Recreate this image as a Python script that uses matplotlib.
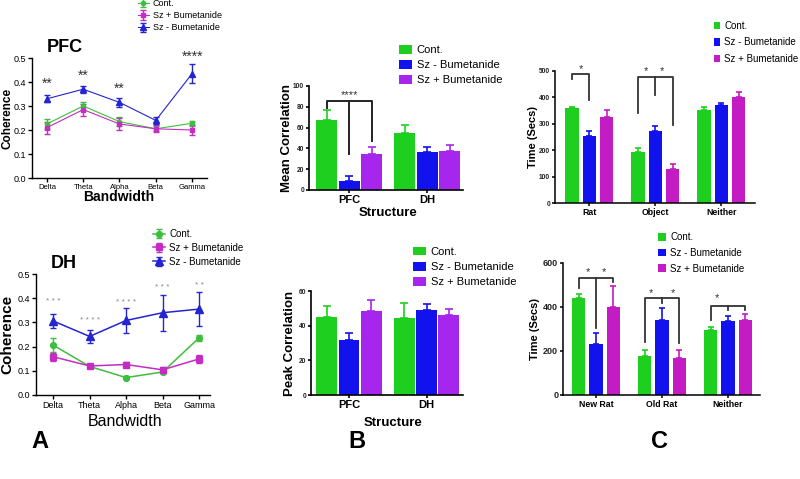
import matplotlib
matplotlib.use("Agg")
import matplotlib.pyplot as plt
import numpy as np

plt.rcParams['font.family'] = ['Liberation Sans', 'DejaVu Sans']

# ---------------- data ----------------
bands = ["Delta", "Theta", "Alpha", "Beta", "Gamma"]

pfc_cont = [0.225, 0.300, 0.235, 0.205, 0.228]
pfc_cont_err = [0.020, 0.015, 0.020, 0.010, 0.010]
pfc_szp = [0.210, 0.285, 0.225, 0.205, 0.200]
pfc_szp_err = [0.025, 0.025, 0.025, 0.015, 0.020]
pfc_szm = [0.330, 0.370, 0.315, 0.240, 0.435]
pfc_szm_err = [0.015, 0.015, 0.020, 0.015, 0.038]
pfc_stars = ["**", "**", "**", "", "****"]
pfc_star_y = [0.393, 0.424, 0.372, 0.0, 0.505]

dh_cont = [0.206, 0.118, 0.072, 0.095, 0.236]
dh_cont_err = [0.030, 0.005, 0.006, 0.006, 0.012]
dh_szp = [0.158, 0.120, 0.126, 0.104, 0.149]
dh_szp_err = [0.016, 0.006, 0.010, 0.010, 0.016]
dh_szm = [0.306, 0.242, 0.308, 0.340, 0.355]
dh_szm_err = [0.030, 0.028, 0.050, 0.074, 0.070]
dh_stars = ["* * *", "* * * *", "* * * *", "* * *", "* *"]
dh_star_y = [0.387, 0.308, 0.384, 0.445, 0.452]

structures = ["PFC", "DH"]
mean_cont = [67.4, 54.6]
mean_cont_err = [9.6, 8.0]
mean_szm = [8.6, 36.4]
mean_szm_err = [4.4, 4.6]
mean_szp = [34.5, 37.7]
mean_szp_err = [6.5, 5.3]

peak_cont = [45.2, 44.6]
peak_cont_err = [6.0, 8.7]
peak_szm = [32.0, 48.8]
peak_szm_err = [3.9, 3.7]
peak_szp = [48.5, 46.1]
peak_szp_err = [6.5, 3.7]

soc_cats = ["Rat", "Object", "Neither"]
soc_cont = [359, 192, 353]
soc_cont_err = [4, 15, 11]
soc_szm = [254, 274, 372]
soc_szm_err = [20, 18, 6]
soc_szp = [326, 128, 400]
soc_szp_err = [27, 21, 19]

nov_cats = ["New Rat", "Old Rat", "Neither"]
nov_cont = [439, 179, 294]
nov_cont_err = [19, 27, 16]
nov_szm = [230, 339, 338]
nov_szm_err = [50, 55, 20]
nov_szp = [399, 167, 339]
nov_szp_err = [96, 36, 31]

# ---------------- helpers ----------------
W, H = 800, 479
fig = plt.figure(figsize=(W / 100, H / 100), dpi=100)


def add_ax(x0, y0, x1, y1):
    return fig.add_axes([x0 / W, 1 - y1 / H, (x1 - x0) / W, (y1 - y0) / H])


def figpt(x, y):
    return (x / W, 1 - y / H)


def style(ax, lw=1.0, tl=3, pad=1.5):
    for s in ["top", "right"]:
        ax.spines[s].set_visible(False)
    for s in ["left", "bottom"]:
        ax.spines[s].set_linewidth(lw)
    ax.tick_params(direction="out", length=tl, width=lw, pad=pad)


def ylab(ax, text, box, right_px, size, weight="bold"):
    x0, y0, x1, y1 = box
    ax.set_ylabel(text, fontsize=size, fontweight=weight)
    ax.yaxis.set_label_coords((right_px - x0) / (x1 - x0), 0.5)


def xlab(ax, text, box, cx_px, top_px, size, weight="bold"):
    x0, y0, x1, y1 = box
    ax.set_xlabel(text, fontsize=size, fontweight=weight)
    ax.xaxis.set_label_coords((cx_px - x0) / (x1 - x0), (y1 - top_px) / (y1 - y0))


# ---------------- A: coherence line plots ----------------
GA, MA, BA = "#3cbf3c", "#c42cc4", "#2424d0"


def line_panel(box, xlim, cont, ce, szp, pe, szm, me, stars, sy, star_size, star_col,
               title, title_xy, ms, lw, xt_size, yt_size, leg_xy, leg_size, leg_sp,
               ylab_right, xlab_pos, ylab_size, xlab_size, xlab_weight):
    ax = add_ax(*box)
    x = np.arange(len(bands))
    h1 = ax.errorbar(x, cont, yerr=ce, color=GA, marker="o", ms=ms, lw=lw, capsize=2,
                     elinewidth=1, label="Cont.")
    h2 = ax.errorbar(x, szp, yerr=pe, color=MA, marker="s", ms=ms + 0.5, lw=lw, capsize=2,
                     elinewidth=1, label="Sz + Bumetanide")
    h3 = ax.errorbar(x, szm, yerr=me, color=BA, marker="^", ms=ms + 1, lw=lw, capsize=2,
                     elinewidth=1, label="Sz - Bumetanide")
    for i, s in enumerate(stars):
        if s:
            ax.text(i, sy[i], s, ha="center", va="center", fontsize=star_size,
                    color=star_col, clip_on=False)
    ax.set_xlim(*xlim)
    ax.set_ylim(0, 0.5)
    ax.set_yticks([0, 0.1, 0.2, 0.3, 0.4, 0.5])
    ax.set_yticklabels(["0.0", "0.1", "0.2", "0.3", "0.4", "0.5"], fontsize=yt_size)
    ax.set_xticks(x)
    ax.set_xticklabels(bands, fontsize=xt_size)
    style(ax, 1.0)
    ylab(ax, "Coherence", box, ylab_right, ylab_size)
    xlab(ax, "Bandwidth", box, xlab_pos[0], xlab_pos[1], xlab_size, weight=xlab_weight)
    fig.text(*figpt(*title_xy), title, fontsize=13, fontweight="bold", ha="left", va="center")
    ax.legend(handles=[h1, h2, h3], loc="upper left", bbox_to_anchor=figpt(*leg_xy),
              bbox_transform=fig.transFigure, frameon=False, fontsize=leg_size,
              borderpad=0, borderaxespad=0, handlelength=1.2, handletextpad=0.45,
              labelspacing=leg_sp)
    return ax


line_panel((32, 58, 207, 178), (-0.41, 4.41), pfc_cont, pfc_cont_err, pfc_szp, pfc_szp_err,
           pfc_szm, pfc_szm_err, pfc_stars, pfc_star_y, 10, "#333333",
           "PFC", (47, 48), 3, 0.8, 5.5, 6.5, (138, -1), 6.5, 0.35, 13, (119, 190), 8.5,
           10, "bold")

line_panel((36, 274, 210, 395), (-0.47, 4.3), dh_cont, dh_cont_err, dh_szp, dh_szp_err,
           dh_szm, dh_szm_err, dh_stars, dh_star_y, 6, "#888888",
           "DH", (51, 264), 4.2, 1.1, 6.5, 6.5, (153, 229), 7, 0.4, 14, (125, 414), 11,
           11.5, "normal")

# ---------------- B: correlation bar charts ----------------
GB, BB, PB = "#1fcf1f", "#1212ee", "#a626ee"


def bar_panel(box, xlim, cats, series, errs, colors, labels, off, width, ylim, yticks,
              ytick_size, xtick_size, ylabel, ylab_right, ylab_size, xlabel, xlab_pos,
              xlab_size, leg_xy, leg_hl, leg_hh, leg_sp, leg_size, lw=1.2, ecap=3,
              tl=2.5, pad=1.0):
    ax = add_ax(*box)
    x = np.arange(len(cats))
    handles = []
    for k, (vals, er, c, lab) in enumerate(zip(series, errs, colors, labels)):
        pos = x + (k - 1) * off
        b = ax.bar(pos, vals, width, color=c, label=lab, zorder=2)
        ax.errorbar(pos, vals, yerr=[np.zeros(len(vals)), er], fmt="none", ecolor=c,
                    elinewidth=1.2, capsize=ecap, capthick=1.2, zorder=1)
        handles.append(b)
    ax.set_xlim(*xlim)
    ax.set_ylim(*ylim)
    ax.set_yticks(yticks)
    ax.set_yticklabels([str(t) for t in yticks], fontsize=ytick_size, fontweight="bold",
                       color="#222222")
    ax.set_xticks(x)
    ax.set_xticklabels(cats, fontsize=xtick_size, fontweight="bold")
    style(ax, lw, tl, pad)
    ylab(ax, ylabel, box, ylab_right, ylab_size)
    if xlabel:
        xlab(ax, xlabel, box, xlab_pos[0], xlab_pos[1], xlab_size)
    ax.legend(handles=handles, loc="upper left", bbox_to_anchor=figpt(*leg_xy),
              bbox_transform=fig.transFigure, frameon=False, fontsize=leg_size,
              borderpad=0, borderaxespad=0, handlelength=leg_hl, handleheight=leg_hh,
              handletextpad=0.4, labelspacing=leg_sp)
    return ax


b_labels = ["Cont.", "Sz - Bumetanide", "Sz + Bumetanide"]
axb1 = bar_panel((309, 86, 463, 190), (-0.513, 1.46), structures,
                 [mean_cont, mean_szm, mean_szp], [mean_cont_err, mean_szm_err, mean_szp_err],
                 [GB, BB, PB], b_labels, 0.288, 0.27, (0, 100), [0, 20, 40, 60, 80, 100],
                 4.8, 8, "Mean Correlation", 293, 9.5, "Structure", (388, 207), 9.5,
                 (399, 45), 1.2, 0.8, 0.45, 8)
# significance bracket
axb1.plot([-0.288, -0.288, 0.288, 0.288], [78.5, 85.6, 85.6, 47.4], color="#222222",
          lw=1.4, zorder=3)
axb1.plot([0, 0], [85.6, 34.6], color="#222222", lw=1.4, zorder=3)
axb1.text(0, 91, "****", ha="center", va="center", fontsize=8, color="#333333")

bar_panel((311, 291, 463, 395), (-0.49, 1.47), structures,
          [peak_cont, peak_szm, peak_szp], [peak_cont_err, peak_szm_err, peak_szp_err],
          [GB, BB, PB], b_labels, 0.288, 0.27, (0, 60), [0, 20, 40, 60],
          4.8, 8, "Peak Correlation", 296, 9.5, "Structure", (393, 417), 9.5,
          (413, 247), 1.2, 0.8, 0.45, 8)

# ---------------- C: social preference bar charts ----------------
GC, BC, MC = "#1fcf1f", "#1212ee", "#c41cc4"
axc1 = bar_panel((555, 71, 755, 203), (-0.52, 2.51), soc_cats,
                 [soc_cont, soc_szm, soc_szp], [soc_cont_err, soc_szm_err, soc_szp_err],
                 [GC, BC, MC], b_labels, 0.262, 0.205, (0, 500), [0, 100, 200, 300, 400, 500],
                 4.8, 6.3, "Time (Secs)", 538, 8, None, None, 8,
                 (714, 21), 0.65, 0.8, 0.65, 7, lw=1.1, ecap=2.5)
bc = "#333333"
axc1.plot([-0.262, -0.262, 0.0, 0.0], [470, 490, 490, 389], color=bc, lw=1.3)
axc1.text(-0.13, 506, "*", ha="center", va="center", fontsize=8, color=bc)
axc1.plot([1 - 0.262, 1 - 0.262, 1 + 0.262, 1 + 0.262], [340, 477, 477, 296], color=bc, lw=1.3)
axc1.plot([1.0, 1.0], [477, 410], color=bc, lw=1.3)
axc1.text(1 - 0.14, 500, "*", ha="center", va="center", fontsize=8, color=bc)
axc1.text(1 + 0.10, 500, "*", ha="center", va="center", fontsize=8, color=bc)

axc2 = bar_panel((563, 263, 760, 395), (-0.5, 2.485), nov_cats,
                 [nov_cont, nov_szm, nov_szp], [nov_cont_err, nov_szm_err, nov_szp_err],
                 [GC, BC, MC], b_labels, 0.265, 0.2, (0, 600), [0, 200, 400, 600],
                 6.5, 6.3, "Time (Secs)", 540, 8, None, None, 8,
                 (658, 232), 0.85, 0.85, 0.6, 7, lw=1.1, ecap=2.5)
axc2.plot([-0.265, -0.265, 0.265, 0.265], [488, 533, 533, 515], color=bc, lw=1.3)
axc2.plot([0.0, 0.0], [533, 303], color=bc, lw=1.3)
axc2.text(-0.12, 560, "*", ha="center", va="center", fontsize=8, color=bc)
axc2.text(0.12, 560, "*", ha="center", va="center", fontsize=8, color=bc)
axc2.plot([1 - 0.265, 1 - 0.265, 1 + 0.265, 1 + 0.265], [239, 439, 439, 236], color=bc, lw=1.3)
axc2.plot([1.0, 1.0], [439, 420], color=bc, lw=1.3)
axc2.text(1 - 0.16, 462, "*", ha="center", va="center", fontsize=8, color=bc)
axc2.text(1 + 0.16, 462, "*", ha="center", va="center", fontsize=8, color=bc)
axc2.plot([2 - 0.265, 2 - 0.265, 2 + 0.265, 2 + 0.265], [341, 406, 406, 386], color=bc, lw=1.3)
axc2.plot([2.0, 2.0], [406, 386], color=bc, lw=1.3)
axc2.text(2 - 0.17, 440, "*", ha="center", va="center", fontsize=8, color=bc)

# ---------------- panel letters ----------------
for lt, xp in [("A", 40), ("B", 357), ("C", 660)]:
    fig.text(*figpt(xp, 441), lt, fontsize=17, fontweight="bold", ha="center", va="center",
             family=["Liberation Sans Narrow", "Liberation Sans", "DejaVu Sans"])

fig.savefig("out.png", dpi=100)
